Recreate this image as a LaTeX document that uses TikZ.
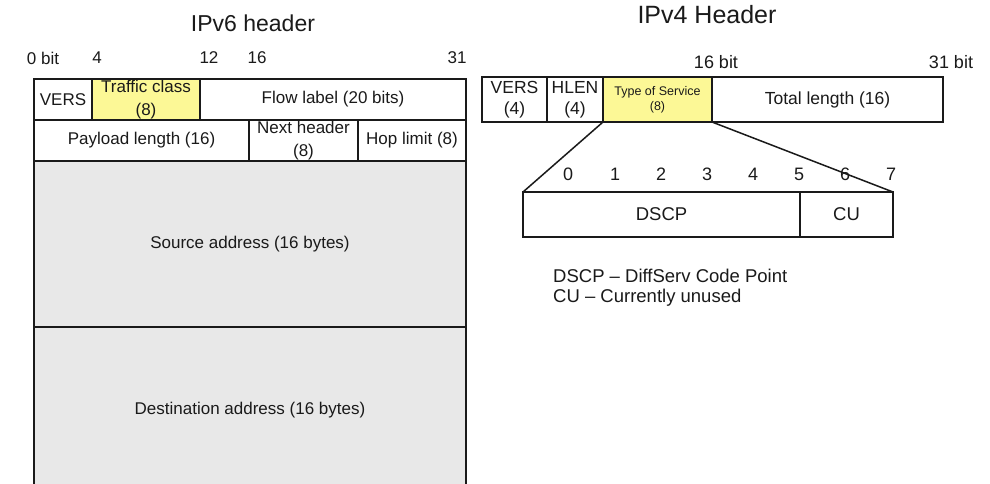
\documentclass[tikz,border=0pt]{standalone}
\usepackage{fontspec}
\setmainfont{Liberation Sans}
\definecolor{ink}{RGB}{26,26,26}
\definecolor{fieldgray}{RGB}{232,232,232}
\definecolor{hilite}{RGB}{252,248,150}
% font size with a baseline of 1.18 times the size
\newcommand{\fs}[1]{\fontsize{#1pt}{\dimexpr#1pt*118/100\relax}\selectfont}
% font size with a looser baseline for two-line fields
\newcommand{\fsl}[1]{\fontsize{#1pt}{\dimexpr#1pt*132/100\relax}\selectfont}
\tikzset{
  field/.style={draw=ink, line width=1.5pt, inner sep=0pt, outer sep=0pt,
    anchor=north west, align=center, text=ink, font=\fsl{17}},
  lbl/.style={inner sep=0pt, text=ink, font=\fs{17}},
}
\begin{document}
\begin{tikzpicture}[x=1pt,y=-1pt]
\useasboundingbox (0,0) rectangle (990,484);
\clip (0,0) rectangle (990,484);
\fill[white] (0,0) rectangle (990,484);

% ---------- IPv6 header ----------
\node[lbl, font=\fs{23}] (t6) at (253,23) {IPv6 header};
\node[lbl] (b0) at (43,58) {0 bit};
\node[lbl] (b4) at (97,58) {4};
\node[lbl] (b12) at (209,58) {12};
\node[lbl] (b16) at (257,58) {16};
\node[lbl] (b31) at (457,58) {31};

\node[field, minimum width=58, minimum height=41] (vers6) at (34,79) {VERS};
\node[field, fill=hilite, minimum width=108, minimum height=41] (tc) at (92,79) {Traffic class\\(8)};
\node[field, minimum width=266, minimum height=41] (flow) at (200,79) {Flow label (20 bits)};

\node[field, minimum width=215, minimum height=41] (pay) at (34,120) {Payload length (16)};
\node[field, minimum width=109, minimum height=41] (nxt) at (249,120) {Next header\\(8)};
\node[field, minimum width=108, minimum height=41] (hop) at (358,120) {Hop limit (8)};

\node[field, fill=fieldgray, minimum width=432, minimum height=166] (src) at (34,161) {Source address (16 bytes)};
\node[field, fill=fieldgray, minimum width=432, minimum height=166] (dst) at (34,327) {Destination address (16 bytes)};

% ---------- IPv4 header ----------
\node[lbl, font=\fs{25}] (t4) at (707,15) {IPv4 Header};
\node[lbl, font=\fs{18}] (c16) at (716,62) {16 bit};
\node[lbl, font=\fs{18}] (c31) at (951,62) {31 bit};

\node[field, font=\fs{17.5}, minimum width=65, minimum height=45] (vers4) at (482,77) {VERS\\(4)};
\node[field, font=\fs{17.5}, minimum width=56, minimum height=45] (hlen) at (547,77) {HLEN\\(4)};
\node[field, font=\fs{12.5}, fill=hilite, minimum width=109, minimum height=45] (tos) at (603,77) {Type of Service\\(8)};
\node[field, font=\fs{17.5}, minimum width=231, minimum height=45] (tot) at (712,77) {Total length (16)};

% ToS byte expanded
\node[field, font=\fs{18.5}, minimum width=277, minimum height=45] (dscp) at (523,192) {DSCP};
\node[field, font=\fs{18.5}, minimum width=93, minimum height=45] (cu) at (800,192) {CU};
\draw[ink, line width=1.5pt] (tos.south west) -- (dscp.north west);
\draw[ink, line width=1.5pt] (tos.south east) -- (cu.north east);

\foreach \i/\xx in {0/568,1/615,2/661,3/707,4/753,5/799,6/845,7/891}
  \node[lbl, font=\fs{18}] (n\i) at (\xx,174) {\i};

\node[lbl, font=\fs{18.5}, anchor=west] (leg1) at (553,276) {DSCP – DiffServ Code Point};
\node[lbl, font=\fs{18.5}, anchor=west] (leg2) at (553,298) {CU – Currently unused};
\end{tikzpicture}
\end{document}
